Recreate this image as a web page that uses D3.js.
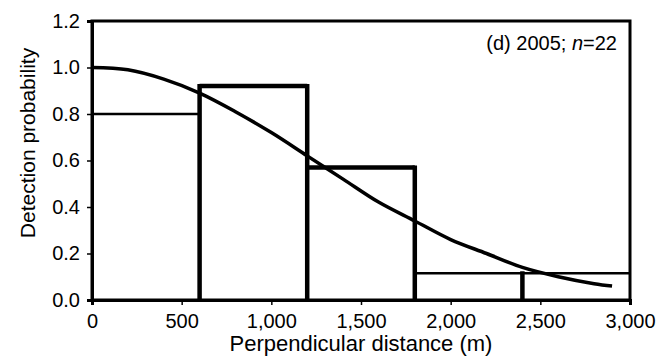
<!DOCTYPE html>
<html>
<head>
<meta charset="utf-8">
<script src="https://cdn.jsdelivr.net/npm/d3@7"></script>
<style>
  body { margin: 0; background: #fff; }
  text { font-family: "Liberation Sans", Arial, sans-serif; fill: #000; }
</style>
</head>
<body>
<div class="chart"></div>
<script>
// histogram bins (m) and observed detection proportions
var binStart = [0, 600, 1200, 1800, 2400];
var binEnd = [600, 1200, 1800, 2400, 3000];
var binValue = [0.80, 0.92, 0.57, 0.115, 0.115];

// fitted detection curve
var curveDist = [0, 200, 400, 600, 800, 1000, 1200, 1400, 1600, 1800, 2000, 2200, 2400, 2600, 2800, 2900];
var curveProb = [1.00, 0.99, 0.95, 0.89, 0.81, 0.72, 0.62, 0.52, 0.42, 0.34, 0.26, 0.20, 0.14, 0.10, 0.07, 0.06];

var xTicks = [0, 500, 1000, 1500, 2000, 2500, 3000];
var yTicks = [0, 0.2, 0.4, 0.6, 0.8, 1.0, 1.2];

// which bars get a thin top line (as in the original)
var thinTop = [true, false, false, true, true];

var margin = {top: 21, right: 37, bottom: 59, left: 92},
    width = 667 - margin.left - margin.right,
    height = 359 - margin.top - margin.bottom;

var svg = d3.select(".chart")
    .append("svg")
    .attr("width", 667)
    .attr("height", 359)
    .append("g")
    .attr("transform", "translate(" + margin.left + "," + margin.top + ")");

var x = d3.scaleLinear().domain([0, 3000]).range([0, width]);
var y = d3.scaleLinear().domain([0, 1.2]).range([height, 0]);

var bins = binStart.map(function(s, i) {
  return {x0: s, x1: binEnd[i], v: binValue[i], thin: thinTop[i]};
});

// bar tops
svg.selectAll(".top")
    .data(bins)
  .enter().append("line")
    .attr("x1", function(d) { return x(d.x0); })
    .attr("x2", function(d) { return x(d.x1); })
    .attr("y1", function(d) { return y(d.v); })
    .attr("y2", function(d) { return y(d.v); })
    .attr("stroke", "#000")
    .attr("stroke-width", function(d) { return d.thin ? 2.5 : 4.5; });

// bar sides (right edge goes up to the taller of the two neighbours)
svg.selectAll(".side")
    .data(bins.slice(0, bins.length - 1))
  .enter().append("line")
    .attr("x1", function(d) { return x(d.x1); })
    .attr("x2", function(d) { return x(d.x1); })
    .attr("y1", y(0))
    .attr("y2", function(d, i) { return y(Math.max(d.v, bins[i + 1].v)) - 2; })
    .attr("stroke", "#000")
    .attr("stroke-width", 4.5);

// fitted curve
var line = d3.line()
    .x(function(d) { return x(d[0]); })
    .y(function(d) { return y(d[1]); })
    .curve(d3.curveCatmullRom);

svg.append("path")
    .datum(curveDist.map(function(d, i) { return [d, curveProb[i]]; }))
    .attr("d", line)
    .attr("fill", "none")
    .attr("stroke", "#000")
    .attr("stroke-width", 3.5);

// frame
svg.append("rect")
    .attr("x", 0)
    .attr("y", 0)
    .attr("width", width)
    .attr("height", height)
    .attr("fill", "none")
    .attr("stroke", "#000")
    .attr("stroke-width", 3);

// axes
var xAxis = svg.append("g")
    .attr("transform", "translate(0," + height + ")")
    .call(d3.axisBottom(x).tickValues(xTicks).tickSize(5).tickPadding(9)
      .tickFormat(d3.format(",")));

var yAxis = svg.append("g")
    .call(d3.axisLeft(y).tickValues(yTicks).tickSize(5).tickPadding(7)
      .tickFormat(d3.format(".1f")));

[xAxis, yAxis].forEach(function(a) {
  a.select(".domain").attr("stroke-width", 3);
  a.selectAll(".tick line").attr("stroke-width", 1.5);
  a.selectAll("text")
    .style("font-family", "Liberation Sans, Arial, sans-serif")
    .style("font-size", "20px");
});

// axis titles
svg.append("text")
    .attr("x", width / 2)
    .attr("y", height + 51)
    .attr("text-anchor", "middle")
    .style("font-size", "22px")
    .text("Perpendicular distance (m)");

svg.append("text")
    .attr("transform", "translate(-57," + (143 - margin.top) + ") rotate(-90)")
    .attr("text-anchor", "middle")
    .style("font-size", "21px")
    .text("Detection probability");

// panel label
var lab = svg.append("text")
    .attr("x", width - 13)
    .attr("y", 29)
    .attr("text-anchor", "end")
    .style("font-size", "20px");
lab.append("tspan").text("(d) 2005; ");
lab.append("tspan").style("font-style", "italic").text("n");
lab.append("tspan").text("=22");
</script>
</body>
</html>
